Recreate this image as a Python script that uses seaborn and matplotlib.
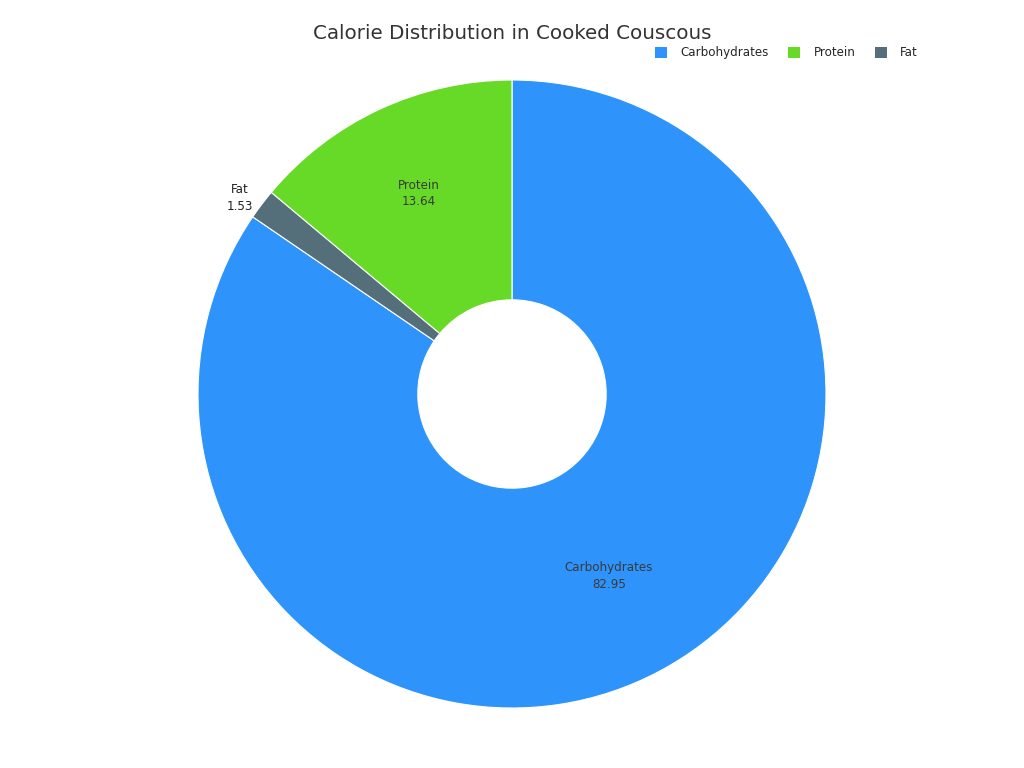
import matplotlib
matplotlib.use("Agg")
import matplotlib.pyplot as plt
import numpy as np
import seaborn as sns
from matplotlib.patches import Patch

categories = ["Carbohydrates", "Protein", "Fat"]
values = [82.95, 13.64, 1.53]
colors = ["#2E93FA", "#66DA26", "#546E7A"]

# drawing order around the ring (clockwise from 12 o'clock)
pie_order = ["Carbohydrates", "Fat", "Protein"]


def main():
    sns.set_theme(style="white")
    plt.rcParams["font.family"] = ["DejaVu Sans"]

    fig = plt.figure(figsize=(10.24, 7.68), dpi=100)
    ax = fig.add_axes([0, 0, 1, 1])

    idx = [categories.index(c) for c in pie_order]
    pie_vals = [values[i] for i in idx]
    pie_cols = [colors[i] for i in idx]

    wedges, _ = ax.pie(
        pie_vals,
        colors=pie_cols,
        startangle=90,
        counterclock=False,
        radius=1.0,
        wedgeprops=dict(width=0.7, edgecolor="white", linewidth=0.8),
    )

    for w, name, val in zip(wedges, pie_order, pie_vals):
        mid = np.deg2rad((w.theta1 + w.theta2) / 2)
        if val < 5:
            r, col, off = 1.07, "#222222", (-3, -5)
        else:
            r, col, off = 0.68, "#3a3a3a", (-2, 5)
        ax.annotate(f"{name}\n{val:.2f}", xy=(r * np.cos(mid), r * np.sin(mid)),
                    xytext=off, textcoords="offset points",
                    ha="center", va="center", fontsize=8.6, color=col, linespacing=1.35)

    ax.set_xlim(-512 / 314, 512 / 314)
    ax.set_ylim(-374 / 314, 394 / 314)
    ax.set_aspect("equal")
    ax.axis("off")

    fig.text(0.5, 0.957, "Calorie Distribution in Cooked Couscous",
             ha="center", va="center", fontsize=14.3, color="#333333")

    handles = [Patch(facecolor=c, edgecolor="none") for c in colors]
    fig.legend(handles, categories, loc="center right", bbox_to_anchor=(0.907, 0.931),
               ncol=3, frameon=False, fontsize=8.6, handlelength=1.0, handleheight=1.0,
               handletextpad=1.15, columnspacing=1.6)

    fig.savefig("out.png", dpi=100)


if __name__ == "__main__":
    main()
